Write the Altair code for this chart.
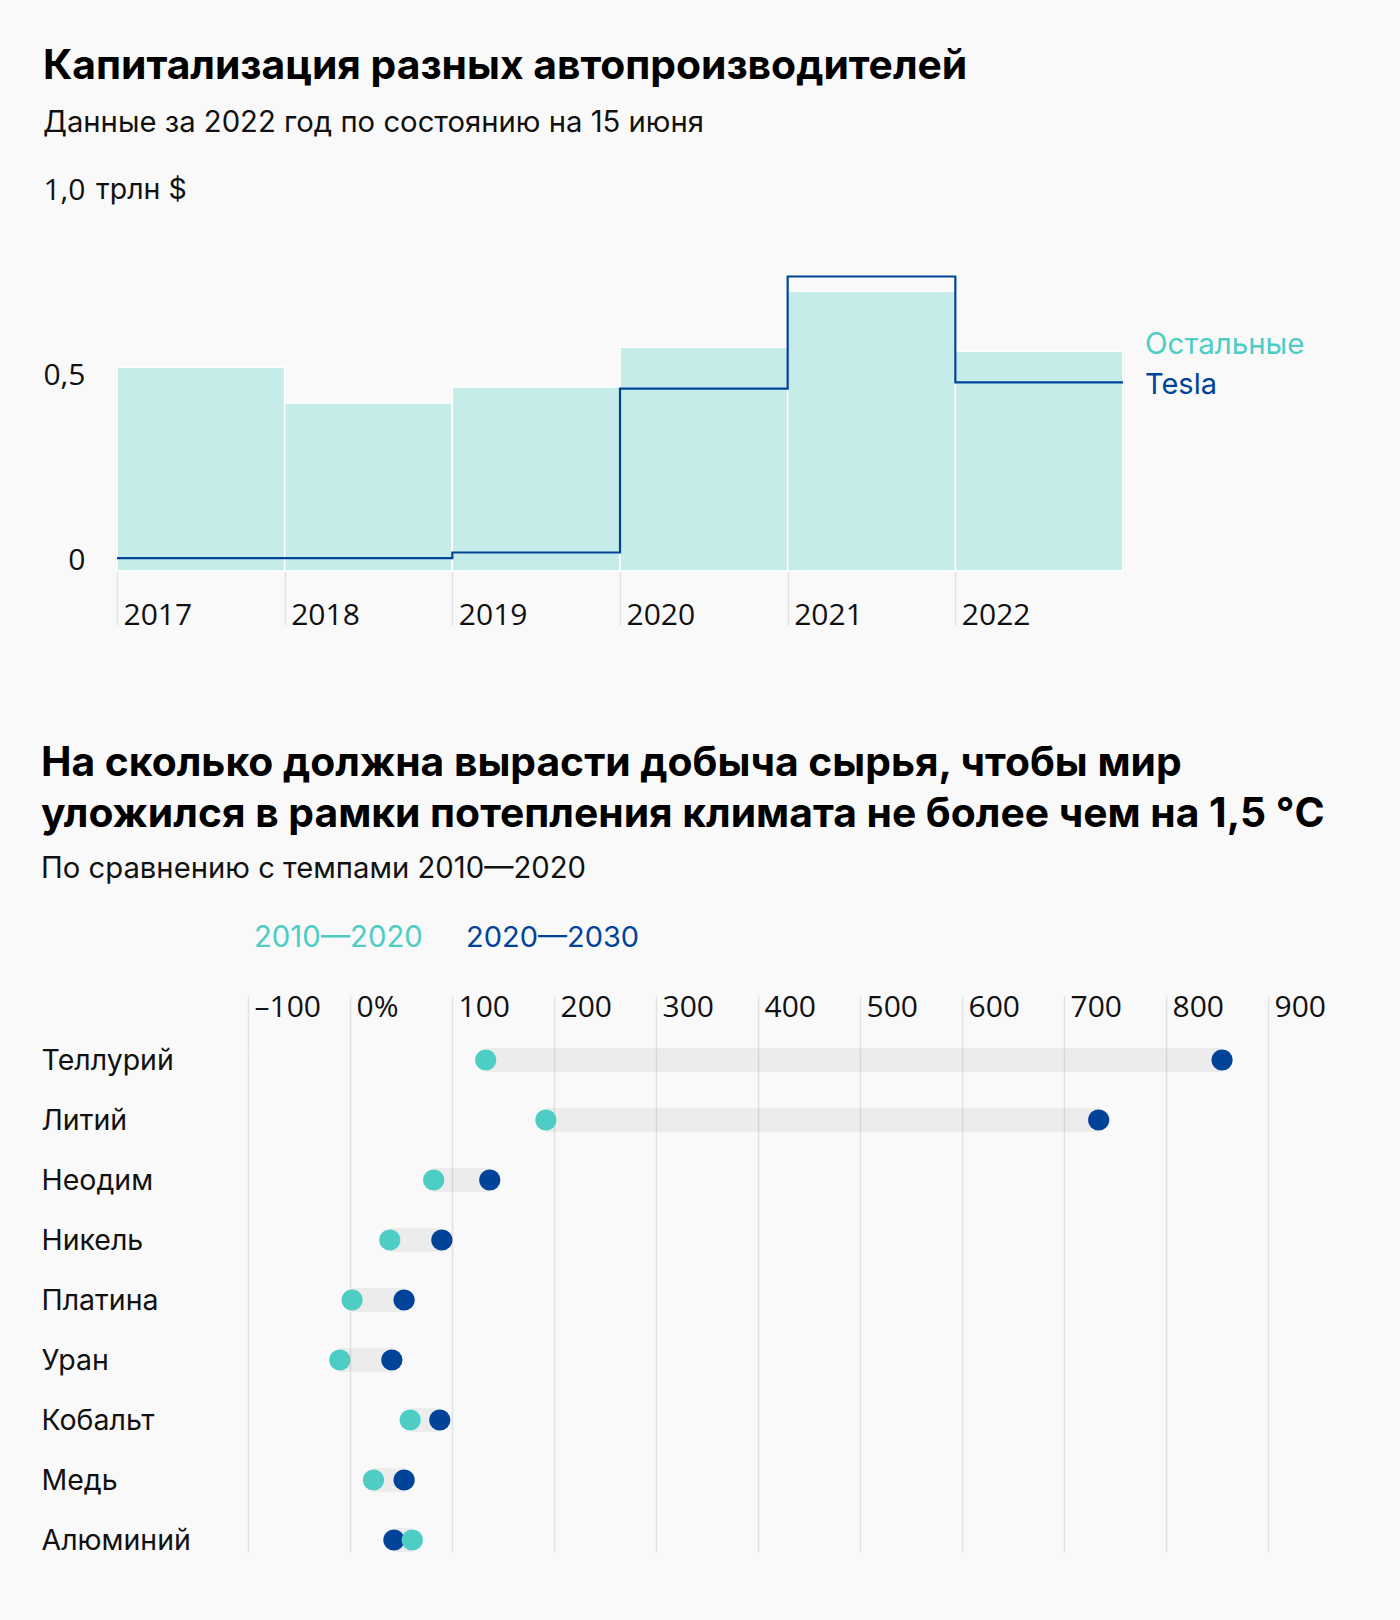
import altair as alt
import pandas as pd

# ---------- data: chart 1 (market cap, trillion $) ----------
years = [2017, 2018, 2019, 2020, 2021, 2022]
others_cap = [0.551, 0.454, 0.497, 0.605, 0.756, 0.594]
tesla_cap = [0.035, 0.035, 0.050, 0.493, 0.796, 0.510]
cap_ticks = [0, 0.5, 1.0]

# ---------- data: chart 2 (growth of mining, %) ----------
minerals = ["Теллурий", "Литий", "Неодим", "Никель", "Платина",
            "Уран", "Кобальт", "Медь", "Алюминий"]
growth_2010_2020 = [133, 192, 82, 39, 2, -10, 59, 23, 61]
growth_2020_2030 = [855, 734, 137, 90, 53, 41, 88, 53, 43]
growth_ticks = [-100, 0, 100, 200, 300, 400, 500, 600, 700, 800, 900]

TEAL = "#4ECDC4"
TEAL_LIGHT = "#C5ECE9"
BLUE = "#00449A"
GRID = "#e2e2e2"
BG = "#f9f9f9"
INK = "#111111"
FONT = "Inter"
NUMFONT = "Open Sans"
FS = 28.5
NFS = 30
TFS = 40.8
SFS = 29.25

# ---------- chart 1 ----------
bars_df = pd.DataFrame({"year": years, "year_end": [y + 1 for y in years], "value": others_cap})
line_df = pd.DataFrame({"year": years + [years[-1] + 1], "value": tesla_cap + [tesla_cap[-1]]})
unit_df = pd.DataFrame({"value": [cap_ticks[-1]]})
lab_o = pd.DataFrame({"year": [years[-1] + 1], "value": [others_cap[-1]], "label": ["Остальные"]})
lab_t = pd.DataFrame({"year": [years[-1] + 1], "value": [tesla_cap[-1]], "label": ["Tesla"]})

xs = alt.Scale(domain=[years[0], years[-1] + 1], nice=False, zero=False)
ys = alt.Scale(domain=[0, 1.0], nice=False)

x_axis = alt.Axis(values=years, format="d", title=None, domain=False, grid=False,
                  ticks=True, tickSize=54, tickColor=GRID, tickWidth=1.5,
                  labelAlign="left", labelOffset=6, labelPadding=-1,
                  labelBaseline="alphabetic", labelFontSize=NFS, labelFont=NUMFONT,
                  labelColor=INK, labelFlush=False, labelOverlap=False)
y_axis = alt.Axis(values=cap_ticks, title=None, domain=False, grid=False, ticks=False,
                  labelExpr="datum.value == 0 ? '0' : replace(format(datum.value, '.1f'), '.', ',')",
                  labelAlign="right", labelBaseline="alphabetic", labelPadding=32,
                  labelOffset=-2,
                  labelFontSize=NFS, labelFont=NUMFONT, labelColor=INK,
                  labelFlush=False, labelOverlap=False)

bars = alt.Chart(bars_df).mark_rect(color=TEAL_LIGHT, stroke="#ffffff", strokeWidth=1.5).encode(
    x=alt.X("year:Q", scale=xs, axis=x_axis),
    x2="year_end:Q",
    y=alt.Y("value:Q", scale=ys, axis=y_axis),
    y2=alt.datum(0),
)
line = alt.Chart(line_df).mark_line(interpolate="step-after", color=BLUE, strokeWidth=2.2).encode(
    x=alt.X("year:Q", scale=xs), y=alt.Y("value:Q", scale=ys)
)
unit = alt.Chart(unit_df).mark_text(text="трлн $", align="left", baseline="alphabetic",
                                    dy=-2, fontSize=FS, font=FONT, color=INK).encode(
    x=alt.value(-21), y=alt.Y("value:Q", scale=ys)
)
t_o = alt.Chart(lab_o).mark_text(align="left", baseline="middle", dx=22, dy=-6,
                                 fontSize=29.5, font=FONT, color=TEAL).encode(
    x=alt.X("year:Q", scale=xs), y=alt.Y("value:Q", scale=ys), text="label:N")
t_t = alt.Chart(lab_t).mark_text(align="left", baseline="middle", dx=22, dy=3,
                                 fontSize=29, font=FONT, color=BLUE).encode(
    x=alt.X("year:Q", scale=xs), y=alt.Y("value:Q", scale=ys), text="label:N")
# invisible edge that pins the canvas width to 1400 px
edge_df = pd.DataFrame({"value": [cap_ticks[0]]})
edge_r = alt.Chart(edge_df).mark_rule(opacity=0).encode(
    x=alt.value(1282), x2=alt.value(1283), y=alt.Y("value:Q", scale=ys))

top = alt.layer(bars, line, unit, t_o, t_t, edge_r).properties(
    width=1006, height=370,
    title=alt.TitleParams(
        text="Капитализация разных автопроизводителей",
        subtitle="Данные за 2022 год по состоянию на 15 июня",
        anchor="start", font=FONT, fontSize=TFS, fontWeight="bold", color="#000",
        subtitleFont=FONT, subtitleFontSize=SFS, subtitleColor=INK,
        subtitlePadding=21, offset=36,
    ),
)

# ---------- chart 2 ----------
dumb_df = pd.DataFrame({"mineral": minerals, "a": growth_2010_2020, "b": growth_2020_2030})
pts_a = pd.DataFrame({"mineral": minerals, "v": growth_2010_2020})
pts_b = pd.DataFrame({"mineral": minerals, "v": growth_2020_2030})

gx = alt.Scale(domain=[-228.5, growth_ticks[-1]], nice=False, zero=False)
gy = alt.Scale(type="point", domain=minerals, padding=0.2)

gx_axis = alt.Axis(values=growth_ticks, orient="top", title=None, domain=False,
                   grid=True, gridColor=GRID, gridWidth=1.5,
                   ticks=True, tickSize=52, tickColor=GRID, tickWidth=1.5,
                   labelExpr="datum.value == 0 ? '0%' : (datum.value < 0 ? '–' + format(-datum.value, 'd') : format(datum.value, 'd'))",
                   labelAlign="left", labelOffset=6, labelPadding=-20,
                   labelBaseline="alphabetic", labelFontSize=NFS, labelFont=NUMFONT,
                   labelColor=INK, labelFlush=False, labelOverlap=False)
gy_axis = alt.Axis(title=None, domain=False, ticks=False, grid=False,
                   labelAlign="left", labelBaseline="middle", labelPadding=76,
                   labelFontSize=FS, labelFont=FONT, labelColor=INK, labelLimit=0)

rng = alt.Chart(dumb_df).mark_rule(color="#000000", opacity=0.052, strokeWidth=24, strokeCap="butt").encode(
    x=alt.X("a:Q", scale=gx, axis=gx_axis), x2="b:Q",
    y=alt.Y("mineral:N", scale=gy, axis=gy_axis, sort=minerals),
)
dot_b = alt.Chart(pts_b).mark_circle(size=450, opacity=1, color=BLUE).encode(
    x=alt.X("v:Q", scale=gx), y=alt.Y("mineral:N", scale=gy, sort=minerals))
dot_a = alt.Chart(pts_a).mark_circle(size=450, opacity=1, color=TEAL).encode(
    x=alt.X("v:Q", scale=gx), y=alt.Y("mineral:N", scale=gy, sort=minerals))

leg_df = pd.DataFrame({"t": ["2010—2020"]})
leg_a = alt.Chart(leg_df).mark_text(text="2010—2020", align="left", baseline="middle",
                                    fontSize=29.3, font=FONT, color=TEAL).encode(
    x=alt.value(137), y=alt.value(-110))
leg_b = alt.Chart(leg_df).mark_text(text="2020—2030", align="left", baseline="middle",
                                    fontSize=29, font=FONT, color=BLUE).encode(
    x=alt.value(349), y=alt.value(-110))
# invisible edge that pins the canvas height to 1620 px
edge_b = alt.Chart(leg_df).mark_rule(opacity=0).encode(
    x=alt.value(0), x2=alt.value(1), y=alt.value(572))

bottom = alt.layer(rng, dot_b, dot_a, leg_a, leg_b, edge_b).properties(
    width=1151, height=504,
    title=alt.TitleParams(
        text=["На сколько должна вырасти добыча сырья, чтобы мир",
              "уложился в рамки потепления климата не более чем на 1,5 °C"],
        subtitle="По сравнению с темпами 2010—2020",
        anchor="start", font=FONT, fontSize=TFS, fontWeight="bold", color="#000",
        lineHeight=51,
        subtitleFont=FONT, subtitleFontSize=SFS, subtitleColor=INK,
        subtitlePadding=19, offset=39,
    ),
)

chart = alt.vconcat(top, bottom, spacing=112).properties(
    background=BG,
    padding={"left": 41, "top": 45, "right": 0, "bottom": 0},
).configure_view(stroke=None)

chart.save("out.html", embed_options={"renderer": "svg", "actions": False})
